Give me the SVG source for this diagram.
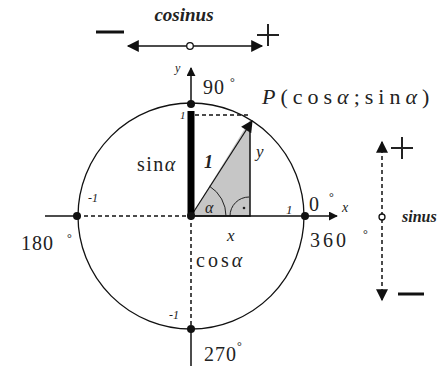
<svg xmlns="http://www.w3.org/2000/svg" width="446" height="367" viewBox="0 0 446 367">
<defs>
<style>
text{font-family:'Liberation Serif','Times New Roman','DejaVu Serif',serif;fill:#222}
.i{font-style:italic}
.b{font-weight:bold}
.ln{stroke:#111;fill:none;stroke-width:1.5}
.dash{stroke:#111;fill:none;stroke-width:1.5;stroke-dasharray:4 3}
</style>
<marker id="ah" viewBox="0 0 10 10" refX="9" refY="5" markerWidth="9" markerHeight="9" markerUnits="userSpaceOnUse" orient="auto-start-reverse">
<path d="M0,0 L10,5 L0,10 Z" fill="#111"/>
</marker>
<marker id="ahb" viewBox="0 0 10 10" refX="9" refY="5" markerWidth="14" markerHeight="12" markerUnits="userSpaceOnUse" orient="auto-start-reverse">
<path d="M0,0 L10,5 L0,10 Z" fill="#111"/>
</marker>
</defs>
<rect width="446" height="367" fill="#fff"/>

<g id="triangle">
<path d="M191,216 L250,120 L250,216 Z" fill="#c6c6c6" stroke="none"/>
<path d="M191,216 L250,216 L250,122" class="ln"/>
<path d="M226,216 A35,35 0 0 0 209.5,186.2" stroke="#222" fill="none" stroke-width="1"/>
<path d="M230,216 A19,19 0 0 1 249,197" stroke="#222" fill="none" stroke-width="1"/>
<circle cx="244" cy="208" r="1.3" fill="#222"/>
</g>

<g id="circle">
<circle cx="191" cy="216" r="113" fill="none" stroke="#111" stroke-width="1.3"/>
</g>

<g id="connectors">
<line x1="191" y1="216" x2="191" y2="329" class="dash"/>
<line x1="77" y1="216" x2="191" y2="216" class="dash"/>
<line x1="195" y1="115" x2="248" y2="115" class="dash"/>
<line x1="45" y1="216" x2="77" y2="216" class="ln"/>
<line x1="191" y1="216" x2="337" y2="216" class="ln" marker-end="url(#ah)"/>
<line x1="191" y1="329" x2="191" y2="366" class="ln"/>
<line x1="191" y1="104" x2="191" y2="68" class="ln" marker-end="url(#ah)"/>
<line x1="191" y1="216" x2="252" y2="121" stroke="#111" stroke-width="1.2" marker-end="url(#ahb)"/>
<line x1="191" y1="216" x2="191" y2="111" stroke="#000" stroke-width="7"/>
<line x1="128" y1="46" x2="262" y2="46" class="ln" marker-start="url(#ahb)" marker-end="url(#ahb)"/>
<line x1="382" y1="142" x2="382" y2="300" class="dash" marker-start="url(#ahb)" marker-end="url(#ahb)"/>
</g>

<g id="points">
<circle cx="191" cy="104" r="4" fill="#111"/>
<circle cx="77" cy="216" r="4" fill="#111"/>
<circle cx="305" cy="216" r="4" fill="#111"/>
<circle cx="191" cy="329" r="4" fill="#111"/>
<circle cx="191" cy="216" r="4" fill="#111"/>
<circle cx="190" cy="46" r="3.3" fill="#fff" stroke="#111" stroke-width="1.3"/>
<circle cx="382" cy="217" r="3" fill="#fff" stroke="#111" stroke-width="1.3"/>
</g>

<g id="cos-scale">
<text x="184" y="21" class="i b" font-size="19" text-anchor="middle">cosinus</text>
<line x1="96" y1="32" x2="124" y2="32" stroke="#111" stroke-width="3"/>
<path d="M257,35 H279 M268,24 V46" stroke="#222" stroke-width="2"/>
</g>

<g id="sin-scale">
<path d="M391,148 H413 M402,137 V159" stroke="#222" stroke-width="2"/>
<line x1="398" y1="294" x2="424" y2="294" stroke="#111" stroke-width="3"/>
<text x="402" y="222" class="i b" font-size="16">sinus</text>
</g>

<g id="labels">
<text x="175" y="72" class="i" font-size="12">y</text>
<text x="203" y="94" font-size="20" letter-spacing="1">90</text>
<text x="230" y="86" font-size="12">°</text>
<text x="262" y="104" font-size="22" letter-spacing="5"><tspan class="i">P</tspan>(cos<tspan class="i">α</tspan>;sin<tspan class="i">α</tspan>)</text>
<text x="180" y="119" class="i" font-size="11">1</text>
<text x="256" y="157" class="i" font-size="17">y</text>
<text x="137" y="171" font-size="20" letter-spacing="1.5">sin<tspan class="i">α</tspan></text>
<text x="204" y="168" class="i b" font-size="18">1</text>
<text x="205" y="213" class="i" font-size="16">α</text>
<text x="88" y="202" class="i" font-size="12">-1</text>
<text x="21" y="250" font-size="20" letter-spacing="1">180</text>
<text x="67" y="242" font-size="12">°</text>
<text x="286" y="214" class="i" font-size="13">1</text>
<text x="309" y="211" font-size="20">0</text>
<text x="329" y="201" font-size="12">°</text>
<text x="342" y="212" class="i" font-size="14">x</text>
<text x="310" y="247" font-size="20" letter-spacing="3">360</text>
<text x="363" y="238" font-size="12">°</text>
<text x="227" y="241" class="i" font-size="17">x</text>
<text x="196" y="267" font-size="20" letter-spacing="3">cos<tspan class="i">α</tspan></text>
<text x="169" y="319" class="i" font-size="12">-1</text>
<text x="204" y="361" font-size="20" letter-spacing="1">270</text>
<text x="237" y="350" font-size="12">°</text>
</g>
</svg>
